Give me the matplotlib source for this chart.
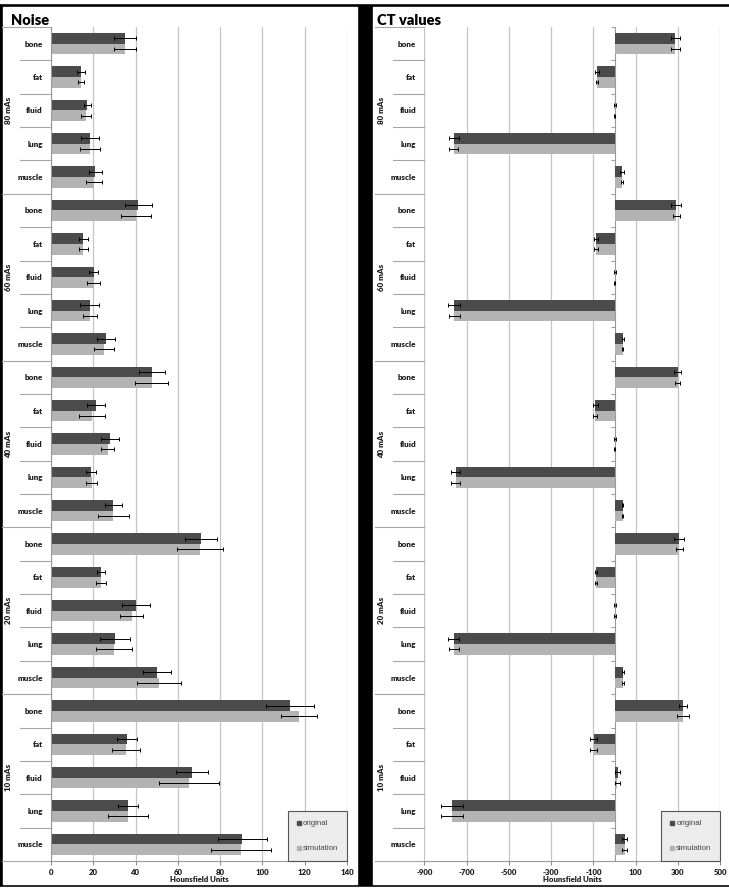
import matplotlib
matplotlib.use("Agg")
import matplotlib.pyplot as plt
import numpy as np
from matplotlib.patches import Rectangle
from matplotlib.lines import Line2D

plt.rcParams['font.family'] = ['Lato', 'DejaVu Sans']
plt.rcParams['axes.unicode_minus'] = False

# ---- data ----
tissues = ['bone', 'fat', 'fluid', 'lung', 'muscle']
groups = ['80 mAs', '60 mAs', '40 mAs', '20 mAs', '10 mAs']

noise_orig = [35, 14.2, 17.2, 18.6, 21,
              41.3, 15.3, 20.2, 18.3, 26,
              47.9, 21.4, 27.9, 18.9, 29.5,
              71, 23.7, 40.2, 30.3, 50,
              113, 36.1, 66.8, 36.3, 90.5]
noise_orig_err = [5, 1.8, 1.6, 4.3, 3,
                  6.5, 2, 2.1, 4.6, 4.3,
                  6.2, 4.3, 4.3, 2.3, 4,
                  7.7, 1.8, 6.7, 6.9, 6.6,
                  11.3, 4.7, 7.6, 4.7, 11.5]
noise_sim = [35, 14.2, 16.6, 18.3, 20.3,
             40, 15.3, 20.2, 18.6, 25,
             47.6, 19.5, 26.8, 19.2, 29.5,
             70.5, 23.7, 38.2, 29.8, 51.1,
             117.2, 35.5, 65.4, 36.3, 89.9]
noise_sim_err = [5, 1.2, 2.4, 4.7, 3.9,
                 7.1, 2.2, 3, 3.3, 4.6,
                 7.9, 6.1, 3.1, 2.5, 7.2,
                 11, 2.5, 5.4, 8.4, 10.2,
                 8.5, 6.5, 14.2, 9.5, 14.3]

ct_orig = [287, -84, 2, -761, 35,
           292, -88, 2, -758, 38,
           298, -91, 2, -752, 38,
           303, -87, 3, -761, 39,
           323, -98, 14, -769, 47]
ct_orig_err = [21, 8, 3, 24, 8,
               24, 10, 3, 28, 5,
               17, 12, 3, 23, 4,
               23, 6, 4, 25, 6,
               20, 16, 12, 51, 12]
ct_sim = [287, -84, 1, -761, 35,
          292, -88, 1, -758, 38,
          298, -91, 1, -752, 38,
          307, -87, 2, -758, 40,
          323, -98, 13, -769, 47]
ct_sim_err = [22, 4, 2, 22, 4,
              17, 9, 2, 25, 4,
              11, 10, 2, 23, 4,
              17, 6, 3, 23, 5,
              29, 16, 12, 51, 12]

noise_ticks = [0, 20, 40, 60, 80, 100, 120, 140]
ct_ticks = [-900, -700, -500, -300, -100, 100, 300, 500]

dark = '#4b4b4b'
light = '#b3b3b3'
grid_c = '#c4c4c4'
sep_c = '#a6a6a6'
txt_c = '#1e1e1e'

W, H = 729, 889
fig = plt.figure(figsize=(W / 100, H / 100), dpi=100, facecolor='black')

def px_rect(x0, y0, x1, y1, color):
    fig.add_artist(Rectangle((x0 / W, 1 - y1 / H), (x1 - x0) / W, (y1 - y0) / H,
                             transform=fig.transFigure, color=color, zorder=-10))

# white panels on black
px_rect(0, 0, W, 3, 'white')
px_rect(0, 887, W, H, 'white')
px_rect(3, 7, 357, 884, 'white')
px_rect(373, 7, W, 884, 'white')

n = len(groups) * len(tissues)
rows = np.arange(n)
labels = tissues * len(groups)


def draw_panel(ax, orig, orig_err, sim, sim_err, ticks, xlim, title, tx, is_ct):
    ax.set_xlim(*xlim)
    ax.set_ylim(n - 0.5, -0.5)
    for t in ticks:
        ax.axvline(t, color=grid_c, lw=0.9, zorder=0)
    ekw = dict(ecolor='black', elinewidth=0.7, capsize=1.6, capthick=0.7)
    ax.barh(rows - 0.16, orig, height=0.32, color=dark, xerr=orig_err,
            error_kw=ekw, zorder=2)
    ax.barh(rows + 0.16, sim, height=0.32, color=light, xerr=sim_err,
            error_kw=ekw, zorder=2)

    ax.set_yticks(rows)
    ax.set_yticklabels(labels, fontsize=5.8, fontweight='heavy', color=txt_c)
    ax.tick_params(axis='y', length=0, pad=6)
    ax.set_xticks(ticks)
    ax.set_xticklabels([str(t) for t in ticks], fontsize=5.6,
                       fontweight='heavy', color=txt_c)
    ax.tick_params(axis='x', length=3, width=0.7, color='#888888', pad=3)
    ax.set_xlabel('Hounsfield Units', fontsize=5.6, fontweight='heavy',
                  color=txt_c, labelpad=0)

    for s in ['top', 'right']:
        ax.spines[s].set_visible(False)
    ax.spines['bottom'].set_color('#999999')
    ax.spines['bottom'].set_linewidth(0.8)
    if is_ct:
        ax.spines['left'].set_visible(False)
        ax.axvline(0, color='#999999', lw=0.8, zorder=1)
        ax.plot(np.zeros(n + 1), np.arange(n + 1) - 0.5, linestyle='none',
                marker=0, markersize=3, color='#999999', markeredgewidth=0.7)
    else:
        ax.spines['left'].set_color('#999999')
        ax.spines['left'].set_linewidth(0.8)

    # category / group separators in the label area
    tr = ax.get_yaxis_transform()
    for b in range(n + 1):
        y = b - 0.5
        x0 = -0.165 if b % len(tissues) == 0 else -0.105
        ax.plot([x0, 0], [y, y], color=sep_c, lw=0.8, transform=tr,
                clip_on=False)
    for g, name in enumerate(groups):
        ax.text(-0.143, g * len(tissues) + 2, name, transform=tr, rotation=90,
                ha='center', va='center', fontsize=5.8, fontweight='heavy',
                color=txt_c)

    fig.text(tx / W, 1 - 25 / H, title, fontsize=10.5, fontweight='heavy',
             color='black', va='baseline', ha='left')

    handles = [Line2D([], [], linestyle='none', marker='s', markersize=3,
                      color=dark),
               Line2D([], [], linestyle='none', marker='s', markersize=3,
                      color=light)]
    leg = ax.legend(handles, ['original', 'simulation'], loc='lower right',
                    bbox_to_anchor=(1, 0), borderaxespad=0,
                    prop={'family': 'Liberation Sans', 'size': 5.7},
                    handlelength=0.6, handletextpad=0.2, borderpad=1.1,
                    labelspacing=2.2, fancybox=False, framealpha=1)
    leg.get_frame().set_facecolor('#ececec')
    leg.get_frame().set_edgecolor('#555555')
    leg.get_frame().set_linewidth(0.8)
    for t in leg.get_texts():
        t.set_color('#444444')


bottom = (H - 861) / H
height = 834 / H
ax1 = fig.add_axes([51 / W, bottom, 296 / W, height])
ax2 = fig.add_axes([424.3 / W, bottom, 296 / W, height])

draw_panel(ax1, noise_orig, noise_orig_err, noise_sim, noise_sim_err,
           noise_ticks, (0, 140), 'Noise', 11, False)
draw_panel(ax2, ct_orig, ct_orig_err, ct_sim, ct_sim_err,
           ct_ticks, (-900, 500), 'CT values', 377, True)

fig.savefig('out.png', dpi=100, facecolor='black')
